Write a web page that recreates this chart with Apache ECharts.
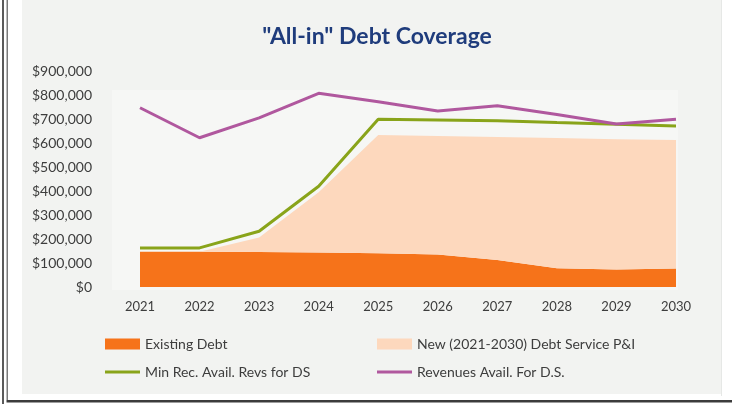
<!DOCTYPE html>
<html>
<head>
<meta charset="utf-8">
<script src="https://cdn.jsdelivr.net/npm/echarts@6/dist/echarts.min.js"></script>
<style>
  html, body { margin: 0; padding: 0; background: #ffffff; }
  #chart { width: 732px; height: 405px; }
</style>
</head>
<body>
<div id="chart"></div>
<script>
// Fiscal years shown on the horizontal axis
const years = ['2021', '2022', '2023', '2024', '2025', '2026', '2027', '2028', '2029', '2030'];

// Debt service already on the books
const existingDebt = [147000, 147000, 146000, 144000, 141000, 135000, 112000, 78000, 73000, 77000];

// Additional debt service P&I for 2021-2030 issuance (stacked on existing)
const newDebtService = [0, 0, 60000, 251000, 492000, 494000, 513000, 543000, 543000, 535000];

// Minimum recommended revenues available for debt service
const minRecRevenues = [163000, 163000, 232000, 420000, 699000, 696000, 693000, 685000, 678000, 671000];

// Revenues available for debt service
const revenuesAvail = [747000, 622000, 705000, 807000, 772000, 733000, 755000, 719000, 679000, 699000];

const FONT = 'Lato, "Open Sans", sans-serif';
const TEXT = '#3d3d3d';

const chart = echarts.init(document.getElementById('chart'), null, { renderer: 'canvas' });

const legendBase = {
  itemWidth: 35,
  padding: 0,
  textStyle: { fontFamily: FONT, fontSize: 14, color: TEXT },
  selectedMode: false,
  icon: 'rect'
};

chart.setOption({
  animation: false,
  backgroundColor: '#ffffff',
  graphic: [
    // panel background
    { type: 'rect', z: -10, shape: { x: 22, y: 0, width: 700, height: 394 }, style: { fill: '#f2f3f1' } },
    // plot area, a shade lighter
    { type: 'rect', z: -9, shape: { x: 112, y: 90, width: 566, height: 200 }, style: { fill: '#f6f7f5' } },
    // frame: double rule on the left, rule along the bottom
    { type: 'rect', z: -8, shape: { x: 2, y: 0, width: 2, height: 404 }, style: { fill: '#5a5a5a' } },
    { type: 'rect', z: -8, shape: { x: 6.5, y: 0, width: 1.5, height: 400 }, style: { fill: '#7a7a7a' } },
    { type: 'rect', z: -8, shape: { x: 6.5, y: 400, width: 726, height: 2.5 }, style: { fill: '#3c3c3c' } },
    { type: 'rect', z: -8, shape: { x: 721, y: 0, width: 1, height: 396 }, style: { fill: '#e6e8e6' } }
  ],
  title: {
    text: '"All-in" Debt Coverage',
    left: 372,
    top: 20,
    textAlign: 'center',
    textStyle: { fontFamily: FONT, fontSize: 23, fontWeight: 'bold', color: '#1f3c7c' }
  },
  legend: [
    Object.assign({}, legendBase, { left: 105, top: 337, itemHeight: 11, data: ['Existing Debt'] }),
    Object.assign({}, legendBase, { left: 377, top: 337, itemHeight: 11, data: ['New (2021-2030) Debt Service P&I'] }),
    Object.assign({}, legendBase, { left: 105, top: 365, itemHeight: 3, data: ['Min Rec. Avail. Revs for DS'] }),
    Object.assign({}, legendBase, { left: 377, top: 365, itemHeight: 3, data: ['Revenues Avail. For D.S.'] })
  ],
  grid: { left: 140, right: 56, top: 71, bottom: 118, containLabel: false },
  xAxis: {
    type: 'category',
    data: years,
    boundaryGap: false,
    axisLine: { show: false },
    axisTick: { show: false },
    axisLabel: { fontFamily: FONT, fontSize: 13, color: TEXT, margin: 13 },
    splitLine: { show: false }
  },
  yAxis: {
    type: 'value',
    min: 0,
    max: 900000,
    interval: 100000,
    axisLine: { show: false },
    axisTick: { show: false },
    splitLine: { show: false },
    axisLabel: {
      fontFamily: FONT, fontSize: 14, color: TEXT, margin: 48,
      formatter: v => '$' + v.toLocaleString('en-US')
    }
  },
  series: [
    {
      name: 'Existing Debt',
      type: 'line',
      stack: 'debt',
      data: existingDebt,
      symbol: 'none',
      lineStyle: { width: 0 },
      itemStyle: { color: '#f6731a' },
      areaStyle: { color: '#f6731a', opacity: 1 },
      z: 2
    },
    {
      name: 'New (2021-2030) Debt Service P&I',
      type: 'line',
      stack: 'debt',
      data: newDebtService,
      symbol: 'none',
      lineStyle: { width: 0 },
      itemStyle: { color: '#fdd8bd' },
      areaStyle: { color: '#fdd8bd', opacity: 1 },
      z: 2
    },
    {
      name: 'Min Rec. Avail. Revs for DS',
      type: 'line',
      data: minRecRevenues,
      symbol: 'none',
      itemStyle: { color: '#89a41a' },
      lineStyle: { width: 3, color: '#89a41a' },
      z: 3
    },
    {
      name: 'Revenues Avail. For D.S.',
      type: 'line',
      data: revenuesAvail,
      symbol: 'none',
      itemStyle: { color: '#b0589e' },
      lineStyle: { width: 3, color: '#b0589e' },
      z: 4
    }
  ]
});
</script>
</body>
</html>
